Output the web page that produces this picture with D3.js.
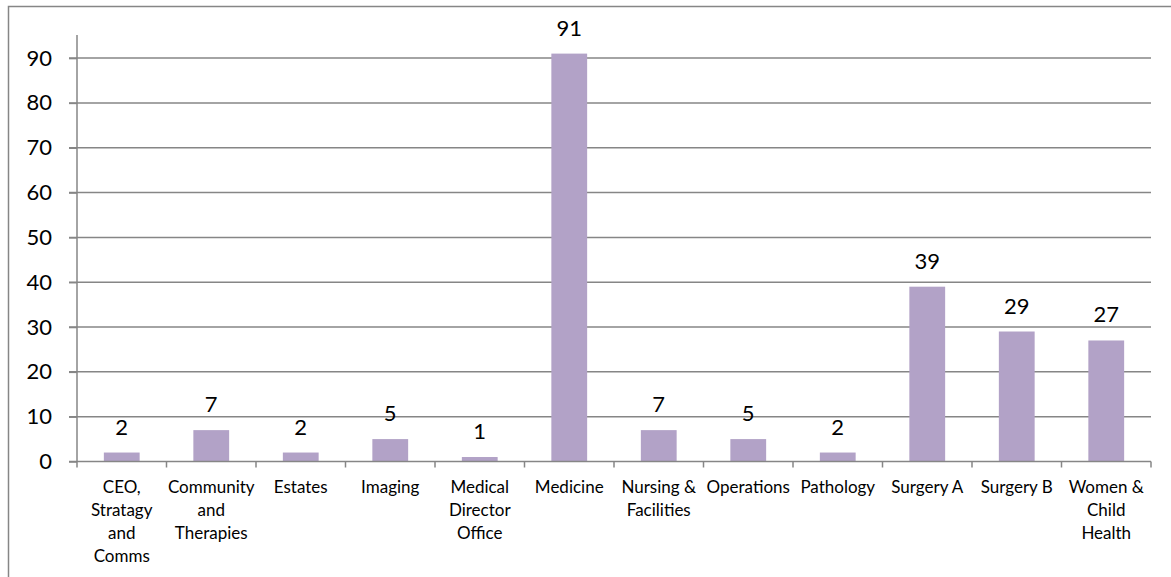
<!DOCTYPE html>
<html><head><meta charset="utf-8">
<script src="https://cdn.jsdelivr.net/npm/d3@7"></script>
<style>html,body{margin:0;padding:0;background:#fff;overflow:hidden}</style>
</head><body>
<svg id="chart" width="1171" height="577"></svg>
<script>
const categories = [
  ["CEO,","Stratagy","and","Comms"],
  ["Community","and","Therapies"],
  ["Estates"],
  ["Imaging"],
  ["Medical","Director","Office"],
  ["Medicine"],
  ["Nursing &","Facilities"],
  ["Operations"],
  ["Pathology"],
  ["Surgery A"],
  ["Surgery B"],
  ["Women &","Child","Health"]
];
const values = [2, 7, 2, 5, 1, 91, 7, 5, 2, 39, 29, 27];
const yTicks = [0, 10, 20, 30, 40, 50, 60, 70, 80, 90];

const svg = d3.select("#chart");
const font = "Lato, 'Open Sans', sans-serif";
const grey = "#868686";

// outer frame (clipped by window on right/bottom)
svg.append("rect").attr("x", 8.5).attr("y", 6.5).attr("width", 1200).attr("height", 600)
  .attr("fill", "none").attr("stroke", grey).attr("stroke-width", 1.5);

const pLeft = 77, pRight = 1151, pTop = 35, pBottom = 461.5;
const idx = d3.range(categories.length);
const x = d3.scaleBand().domain(idx).range([pLeft, pRight]).paddingInner(0.6).paddingOuter(0.3);
const y = d3.scaleLinear().domain([0, 95.15]).range([pBottom, pTop]);

// gridlines
svg.append("g").selectAll("line").data(yTicks.filter(d => d > 0)).join("line")
  .attr("x1", pLeft - 8).attr("x2", pRight)
  .attr("y1", d => y(d)).attr("y2", d => y(d))
  .attr("stroke", grey).attr("stroke-width", 1.5);

// y axis
const yAxis = d3.axisLeft(y).tickValues(yTicks).tickSize(8).tickPadding(17).tickFormat(d3.format("d"));
const gy = svg.append("g").attr("transform", `translate(${pLeft},0)`).call(yAxis);
gy.select(".domain").attr("stroke", grey).attr("stroke-width", 1.5).attr("d", `M0,${pTop}V${pBottom}`);
gy.selectAll(".tick line").attr("stroke", grey).attr("stroke-width", 1.5);
gy.selectAll(".tick text").attr("font-family", font).attr("font-size", 22).attr("fill", "#000");

// bars
svg.append("g").selectAll("rect").data(values).join("rect")
  .attr("x", (d, i) => x(i)).attr("width", x.bandwidth())
  .attr("y", d => y(d)).attr("height", d => pBottom - y(d))
  .attr("fill", "#B2A2C7");

// x axis
const step = x.step();
const gx = svg.append("g").attr("transform", `translate(0,${pBottom})`);
gx.append("line").attr("x1", pLeft - 8).attr("x2", pRight).attr("stroke", grey).attr("stroke-width", 1.5);
const tickXs = d3.range(categories.length + 1).map(i => pLeft + i * step);
gx.selectAll("line.tk").data(tickXs).join("line").attr("class", "tk")
  .attr("x1", d => d).attr("x2", d => d).attr("y1", 0).attr("y2", 6)
  .attr("stroke", grey).attr("stroke-width", 1.5);

// category labels
const labels = svg.append("g");
categories.forEach((lines, i) => {
  const cx = x(i) + x.bandwidth() / 2;
  const t = labels.append("text").attr("text-anchor", "middle")
    .attr("font-family", font).attr("font-size", 17).attr("fill", "#000");
  lines.forEach((l, j) => {
    t.append("tspan").attr("x", cx).attr("y", pBottom + 31 + j * 23).text(l);
  });
});

// data labels
svg.append("g").selectAll("text").data(values).join("text")
  .attr("x", (d, i) => x(i) + x.bandwidth() / 2)
  .attr("y", d => y(d) - 18)
  .attr("text-anchor", "middle").attr("font-family", font).attr("font-size", 22).attr("fill", "#000")
  .text(d => d);
</script>
</body></html>
